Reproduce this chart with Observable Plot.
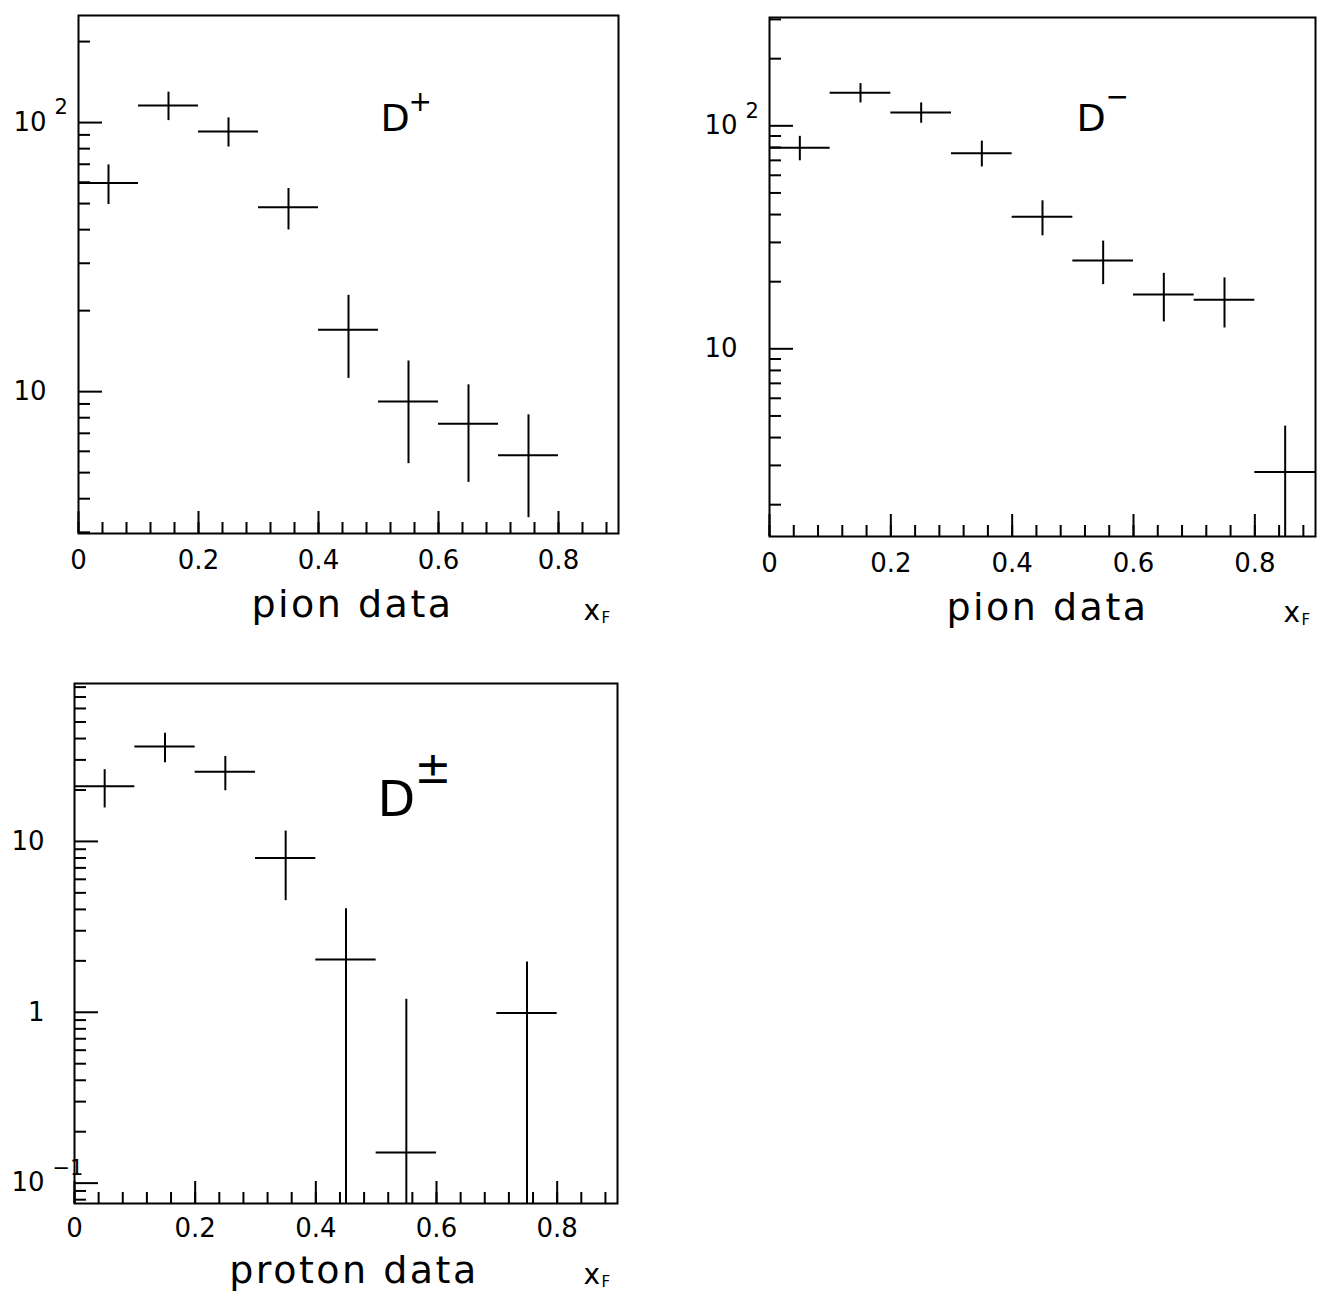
<!DOCTYPE html>
<html><head><meta charset="utf-8">
<script src="https://cdn.jsdelivr.net/npm/d3@7"></script>
<script src="https://cdn.jsdelivr.net/npm/@observablehq/plot@0.6"></script>
<style>
body{margin:0;background:#fff;}
#wrap{position:relative;width:1318px;height:1292px;overflow:hidden;background:#fff}
.panel{position:absolute}
</style></head><body><div id="wrap"></div>
<script>
// ---- data ----
const binCenters = [0.05, 0.15, 0.25, 0.35, 0.45, 0.55, 0.65, 0.75, 0.85];
const binHalfWidth = 0.05;

const dPlusValues  = [59.6, 115.7, 92.6, 48.4, 17.0, 9.2, 7.6, 5.8, null];
const dPlusErrors  = [10.0, 14.0, 11.5, 8.5, 5.8, 3.8, 3.0, 2.4, null];

const dMinusValues = [79.7, 140.6, 114.7, 75.4, 39.1, 24.9, 17.5, 16.6, 2.8];
const dMinusErrors = [10.0, 14.0, 12.0, 10.0, 7.0, 5.5, 4.3, 4.2, 1.7];

const dPMValues    = [21.0, 35.9, 25.6, 8.0, 2.04, 0.151, null, 0.99, null];
const dPMErrors    = [5.3, 7.0, 5.8, 3.5, 2.0, 1.04, null, 0.98, null];

const xTickValues = [0, 0.2, 0.4, 0.6, 0.8];
const xTickLabels = ["0", "0.2", "0.4", "0.6", "0.8"];

const yLabelValuesPion   = [10, 100];
const yLabelBasePion     = ["10", "10"];
const yLabelExpPion      = ["", "2"];
const yLabelValuesProton = [0.1, 1, 10];
const yLabelBaseProton   = ["10", "1", "10"];
const yLabelExpProton    = ["\u22121", "", ""];

const FONT = "'DejaVu Sans', sans-serif";

function decadeTicks(dom) {
  const out = [];
  for (let e = Math.floor(Math.log10(dom[0])); e <= Math.ceil(Math.log10(dom[1])); e++) {
    const v = Math.pow(10, e);
    if (v >= dom[0] && v <= dom[1]) out.push(v);
  }
  return out;
}
function minorTicks(dom) {
  const out = [];
  for (let e = Math.floor(Math.log10(dom[0])); e <= Math.ceil(Math.log10(dom[1])); e++) {
    for (let k = 2; k <= 9; k++) {
      const v = +(k * Math.pow(10, e)).toPrecision(3);
      if (v >= dom[0] && v <= dom[1]) out.push(v);
    }
  }
  return out;
}
const xMinor = d3.range(0, 0.9, 0.04).map(v => +v.toFixed(2));

function makePanel(cfg) {
  const {width, height, ml, mr, mt, mb, yDomain, values, errors} = cfg;
  const fw = width - ml - mr, fh = height - mt - mb;
  const pts = binCenters.map((c, i) => ({c, lo: c - binHalfWidth, hi: Math.min(c + binHalfWidth, 0.9), v: values[i], e: errors[i]}))
    .filter(d => d.v != null)
    .map(d => ({...d, ylo: Math.max(d.v - d.e, yDomain[0]), yhi: Math.min(d.v + d.e, yDomain[1])}));
  const yl = cfg.yLabelValues.map((v, i) => ({v, base: cfg.yLabelBase[i], exp: cfg.yLabelExp[i]}));
  const xl = xTickValues.map((v, i) => ({v, t: xTickLabels[i]}));
  const sw = 2;
  const svg = Plot.plot({
    width, height,
    marginLeft: ml, marginRight: mr, marginTop: mt, marginBottom: mb,
    style: {fontFamily: FONT, background: "white", overflow: "visible", color: "black"},
    x: {domain: [0, 0.9], axis: null},
    y: {type: "log", domain: yDomain, axis: null},
    marks: [
      Plot.frame({stroke: "black", strokeWidth: sw}),
      Plot.tickY(decadeTicks(yDomain), {y: d => d, insetRight: fw - 24, stroke: "black", strokeWidth: sw}),
      Plot.tickY(minorTicks(yDomain), {y: d => d, insetRight: fw - 12, stroke: "black", strokeWidth: sw}),
      Plot.tickX(xMinor, {x: d => d, insetTop: fh - 11, stroke: "black", strokeWidth: sw}),
      Plot.tickX(xTickValues, {x: d => d, insetTop: fh - 22, stroke: "black", strokeWidth: sw}),
      Plot.ruleY(pts, {y: "v", x1: "lo", x2: "hi", stroke: "black", strokeWidth: sw}),
      Plot.ruleX(pts, {x: "c", y1: "ylo", y2: "yhi", stroke: "black", strokeWidth: sw}),
      Plot.text(yl, {y: "v", text: "base", frameAnchor: "left", textAnchor: "end", lineAnchor: "middle", dx: cfg.yLabelDx, fontSize: 26, fill: "black"}),
      Plot.text(yl, {y: "v", text: "exp", frameAnchor: "left", textAnchor: "start", lineAnchor: "middle", dx: cfg.yLabelDx + 8, dy: -15, fontSize: 21, fill: "black"}),
      Plot.text(xl, {x: "v", text: "t", frameAnchor: "bottom", textAnchor: "middle", lineAnchor: "middle", dy: cfg.xLabelDy, fontSize: 26, fill: "black"}),
      Plot.text([cfg.title], {frameAnchor: "bottom", textAnchor: "middle", lineAnchor: "bottom", dx: cfg.titleDx, dy: cfg.titleDy, fontSize: 38, fill: "black"}),
      Plot.text(["x"], {frameAnchor: "bottom-right", textAnchor: "start", lineAnchor: "bottom", dx: cfg.xfDx, dy: cfg.xfDy, fontSize: 28, fill: "black"}),
      Plot.text(["F"], {frameAnchor: "bottom-right", textAnchor: "start", lineAnchor: "bottom", dx: cfg.xfDx + 18, dy: cfg.xfDy + 3, fontSize: 15, fill: "black"}),
      Plot.text(["D"], {frameAnchor: "top-left", textAnchor: "start", lineAnchor: "bottom", dx: cfg.dDx, dy: cfg.dDy, fontSize: cfg.dSize, fill: "black"}),
      Plot.text([cfg.sup], {frameAnchor: "top-left", textAnchor: "start", lineAnchor: "bottom", dx: cfg.supDx, dy: cfg.supDy, fontSize: cfg.supSize, fill: "black"})
    ]
  });
  // widen the axis-title lettering like the original stroke font
  svg.querySelectorAll("text").forEach(t => {
    if (t.textContent === cfg.title) t.style.letterSpacing = "2.5px";
  });
  return svg;
}

const panels = [
  {left: 0, top: 0, width: 660, height: 640, ml: 78, mr: 42, mt: 15, mb: 107,
   yDomain: [2.97, 250], values: dPlusValues, errors: dPlusErrors,
   yLabelValues: yLabelValuesPion, yLabelBase: yLabelBasePion, yLabelExp: yLabelExpPion, yLabelDx: -32,
   xLabelDy: 27, title: "pion data", titleDx: 4, titleDy: 83, xfDx: -35, xfDy: 86,
   dDx: 302, dDy: 115, dSize: 38, sup: "+", supDx: 330, supDy: 95, supSize: 28},
  {left: 660, top: 0, width: 658, height: 640, ml: 109, mr: 3, mt: 17, mb: 104,
   yDomain: [1.44, 306], values: dMinusValues, errors: dMinusErrors,
   yLabelValues: yLabelValuesPion, yLabelBase: yLabelBasePion, yLabelExp: yLabelExpPion, yLabelDx: -32,
   xLabelDy: 27, title: "pion data", titleDx: 5, titleDy: 83, xfDx: -32, xfDy: 85,
   dDx: 307, dDy: 113, dSize: 38, sup: "\u2212", supDx: 336, supDy: 88, supSize: 28},
  {left: 0, top: 660, width: 660, height: 632, ml: 74, mr: 43, mt: 23, mb: 89,
   yDomain: [0.076, 84], values: dPMValues, errors: dPMErrors,
   yLabelValues: yLabelValuesProton, yLabelBase: yLabelBaseProton, yLabelExp: yLabelExpProton, yLabelDx: -30,
   xLabelDy: 25, title: "proton data", titleDx: 8, titleDy: 79, xfDx: -34, xfDy: 80,
   dDx: 303, dDy: 132, dSize: 49, sup: "\u00b1", supDx: 340, supDy: 99, supSize: 44}
];

const wrap = document.getElementById("wrap");
for (const p of panels) {
  const div = document.createElement("div");
  div.className = "panel";
  div.style.left = p.left + "px";
  div.style.top = p.top + "px";
  div.appendChild(makePanel(p));
  wrap.appendChild(div);
}
</script>
</body></html>
